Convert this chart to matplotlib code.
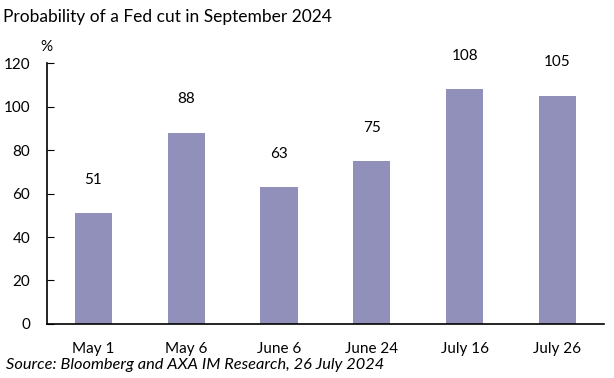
import matplotlib
matplotlib.use("Agg")
import matplotlib.pyplot as plt

dates = ["May 1", "May 6", "June 6", "June 24", "July 16", "July 26"]
probs = [51, 88, 63, 75, 108, 105]
yticks = [0, 20, 40, 60, 80, 100, 120]

plt.rcParams['font.family'] = ['Lato', 'DejaVu Sans']

fig = plt.figure(figsize=(6.14, 3.78), dpi=100)
ax = fig.add_axes([0.0765, 0.143, 0.907, 0.69])

x = range(len(dates))
ax.bar(x, probs, width=0.4, color="#9190ba", zorder=2)
for i, v in zip(x, probs):
    ax.annotate(str(v), (i, v), xytext=(0, 24), textcoords="offset points",
                ha="center", va="center", fontsize=11)

ax.set_xlim(-0.5, len(dates) - 0.5)
ax.set_ylim(0, 120)
ax.set_yticks(yticks)
ax.set_xticks(list(x))
ax.set_xticklabels(dates, fontsize=11)
ax.tick_params(axis="y", direction="in", length=5, labelsize=11, pad=12)
ax.tick_params(axis="x", length=0, pad=13)
for s in ["top", "right"]:
    ax.spines[s].set_visible(False)
ax.spines["left"].set_linewidth(1.2)
ax.spines["bottom"].set_linewidth(1.2)

fig.text(0.005, 0.955, "Probability of a Fed cut in September 2024", fontsize=12.5,
         ha="left", va="center")
fig.text(0.075, 0.875, "%", fontsize=11, ha="center", va="center")
fig.text(0.01, 0.035, "Source: Bloomberg and AXA IM Research, 26 July 2024",
         fontsize=11.8, style="italic", ha="left", va="center")

fig.savefig("out.png", dpi=100)
